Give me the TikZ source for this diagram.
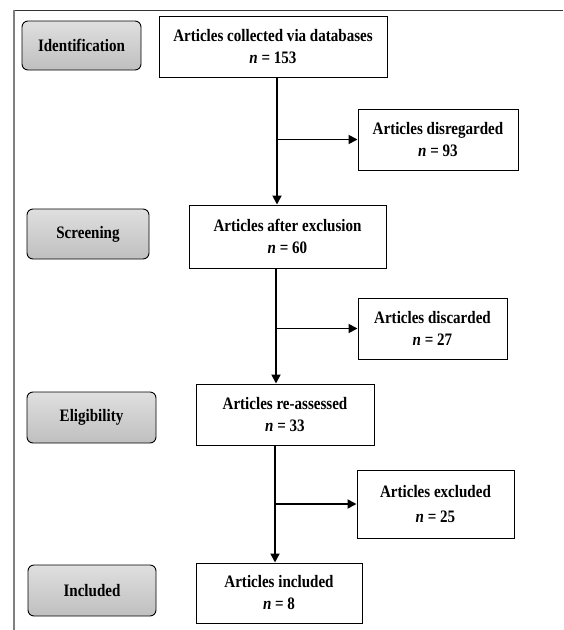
\documentclass[tikz,border=0pt]{standalone}
\usepackage{fontspec}
\setmainfont{Liberation Serif}[FakeStretch=0.86]
\usepackage{tikz}
\usetikzlibrary{arrows.meta,positioning}

\begin{document}
\begin{tikzpicture}[x=1pt,y=-1pt]

\tikzset{myarrow/.style={-{Triangle[length=9pt,width=9pt]}, line width=1.8pt},
  stagebox/.style={draw, line width=1pt, fill=white, align=center,
    font=\bfseries\fontsize{17.5}{22}\selectfont, inner sep=0pt},
  phasebox/.style={draw, line width=0.9pt, rounded corners=6pt,
    top color=gray!25, bottom color=gray!50, align=center,
    font=\bfseries\fontsize{17.5}{20}\selectfont, inner sep=0pt}}

    % Frame
    \useasboundingbox (0,0) rectangle (563,630);
    \coordinate (FT) at (14,10);
    \draw[line width=1pt, black!80] (FT) -- (563,10);
    \draw[line width=1.5pt, gray] (FT) -- (14,630);

    % Phase labels
    \node[phasebox, minimum width=119pt, minimum height=49pt] (P1) at (81.5,45.5) {Identification};
    \node[phasebox, minimum width=122pt, minimum height=50pt] (P2) at (88,234) {Screening};
    \node[phasebox, minimum width=129pt, minimum height=51pt] (P3) at (91.5,417.5) {Eligibility};
    \node[phasebox, minimum width=128pt, minimum height=51pt] (P4) at (92,590.5) {Included};

    % Main column
    \node[stagebox, minimum width=228pt, minimum height=61pt] (B1) at (273,46.5)
      {Articles collected via databases\\ \textit{n} = 153};
    \node[stagebox, minimum width=197pt, minimum height=63pt] (B2) at (287.5,236.5)
      {Articles after exclusion\\ \textit{n} = 60};
    \node[stagebox, minimum width=178pt, minimum height=61pt] (B3) at (285,414.5)
      {Articles re-assessed\\ \textit{n} = 33};
    \node[stagebox, minimum width=166pt, minimum height=60pt] (B4) at (279,593)
      {Articles included\\ \textit{n} = 8};

    % Side column
    \node[stagebox, minimum width=160pt, minimum height=61pt] (D1) at (438,139.5)
      {Articles disregarded\\ \textit{n} = 93};
    \node[stagebox, minimum width=149pt, minimum height=61pt] (D2) at (432.5,328.5)
      {Articles discarded\\ \textit{n} = 27};
    \node[stagebox, minimum width=157pt, minimum height=68pt] (D3) at (435.5,504)
      {Articles excluded\\[3pt] \textit{n} = 25};

    % Connectors
    \coordinate (S1) at (277,0);
    \coordinate (S2) at (276,0);
    \coordinate (S3) at (275,0);
    \draw[myarrow] (B1.south -| S1) -- (B2.north -| S1);
    \draw[myarrow] (B2.south -| S2) -- (B3.north -| S2);
    \draw[myarrow] (B3.south -| S3) -- (B4.north -| S3);
    \draw[myarrow] (D1.west -| S1) -- (D1.west);
    \draw[myarrow] (D2.west -| S2) -- (D2.west);
    \draw[myarrow] (D3.west -| S3) -- (D3.west);

\end{tikzpicture}
\end{document}
